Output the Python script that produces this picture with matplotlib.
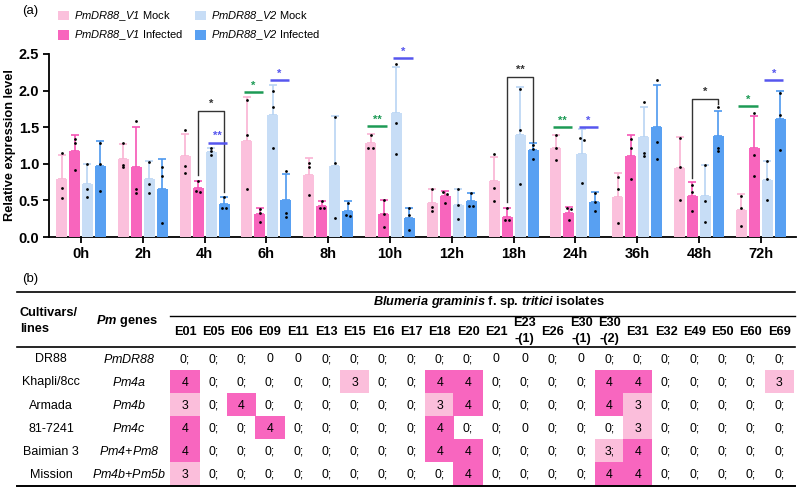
"""Relative expression of PmDR88 variants (a) and Bgt isolate reaction table (b)."""
import numpy as np
import matplotlib
matplotlib.use("Agg")
import matplotlib.pyplot as plt
from matplotlib.patches import Patch, Rectangle

plt.rcParams["font.family"] = ["Liberation Sans", "DejaVu Sans"]
plt.rcParams["mathtext.fontset"] = "custom"
# digits inside \mathit fall back to the "rm" slot, so make that italic too
plt.rcParams["mathtext.rm"] = "Liberation Sans:italic"
plt.rcParams["mathtext.it"] = "Liberation Sans:italic"
plt.rcParams["mathtext.bf"] = "Liberation Sans:bold"
plt.rcParams["mathtext.bfit"] = "Liberation Sans:italic:bold"

# ---------------- (a) data ----------------
time_points = ["0h", "2h", "4h", "6h", "8h", "10h", "12h", "18h", "24h", "36h", "48h", "72h"]
series_labels = [r"$\mathit{PmDR88\_V1}$ Mock", r"$\mathit{PmDR88\_V1}$ Infected",
                 r"$\mathit{PmDR88\_V2}$ Mock", r"$\mathit{PmDR88\_V2}$ Infected"]

v1_mock = [0.79, 1.07, 1.10, 1.31, 0.85, 1.28, 0.47, 0.76, 1.22, 0.55, 0.94, 0.37]
v1_inf = [1.17, 0.95, 0.67, 0.31, 0.43, 0.32, 0.56, 0.28, 0.33, 1.11, 0.56, 1.21]
v2_mock = [0.73, 0.79, 1.16, 1.66, 0.97, 1.69, 0.44, 1.40, 1.14, 1.36, 0.56, 0.78]
v2_inf = [0.97, 0.65, 0.45, 0.50, 0.35, 0.26, 0.49, 1.19, 0.48, 1.50, 1.38, 1.61]

v1_mock_sd = [0.33, 0.20, 0.31, 0.60, 0.23, 0.13, 0.18, 0.33, 0.18, 0.33, 0.42, 0.22]
v1_inf_sd = [0.23, 0.55, 0.09, 0.08, 0.06, 0.185, 0.07, 0.11, 0.08, 0.29, 0.19, 0.44]
v2_mock_sd = [0.27, 0.25, 0.05, 0.41, 0.68, 0.63, 0.21, 0.65, 0.33, 0.41, 0.42, 0.26]
v2_inf_sd = [0.34, 0.41, 0.10, 0.355, 0.14, 0.14, 0.11, 0.10, 0.14, 0.57, 0.34, 0.39]

v1_mock_reps = [(1.15, 0.67, 0.53), (1.29, 0.99, 0.95), (1.46, 0.97, 0.87), (1.87, 1.39, 0.66),
                (1.01, 0.96, 0.57), (1.40, 1.22, 1.22), (0.65, 0.41, 0.35), (1.13, 0.67, 0.49),
                (1.40, 1.22, 1.05), (0.82, 0.65, 0.19), (1.35, 0.96, 0.50), (0.56, 0.40, 0.15)]
v1_inf_reps = [(1.34, 1.28, 0.91), (1.59, 0.66, 0.60), (0.76, 0.63, 0.61), (0.38, 0.33, 0.21),
               (0.49, 0.40, 0.39), (0.50, 0.31, 0.14), (0.62, 0.59, 0.46), (0.39, 0.23, 0.23),
               (0.39, 0.38, 0.23), (1.34, 1.21, 0.79), (0.71, 0.62, 0.35), (1.70, 1.12, 0.83)]
v2_mock_reps = [(1.00, 0.65, 0.55), (1.03, 0.72, 0.60), (1.21, 1.17, 1.12), (1.99, 1.78, 1.21),
                (1.64, 1.01, 0.26), (2.37, 1.56, 1.13), (0.65, 0.44, 0.24), (2.02, 1.46, 0.73),
                (1.35, 1.33, 0.74), (1.84, 1.15, 1.10), (0.98, 0.49, 0.20), (1.04, 0.79, 0.50)]
v2_inf_reps = [(1.29, 1.00, 0.63), (0.96, 0.83, 0.19), (0.55, 0.40, 0.39), (0.90, 0.33, 0.28),
               (0.47, 0.30, 0.29), (0.39, 0.30, 0.10), (0.60, 0.42, 0.42), (1.26, 1.20, 1.07),
               (0.60, 0.48, 0.36), (2.14, 1.30, 1.06), (1.78, 1.21, 1.17), (1.97, 1.66, 1.19)]

# significance: V1 infected vs V2 infected (black brackets)
bracket_groups = [2, 7, 10]
bracket_top = [1.72, 2.18, 1.89]
bracket_left_end = [0.85, 0.48, 0.80]
bracket_right_end = [0.62, 1.30, 1.82]
bracket_marks = ["*", "**", "*"]
# V1 mock vs V1 infected (green)
green_groups = [3, 5, 8, 11]
green_y = [1.98, 1.51, 1.505, 1.79]
green_marks = ["*", "**", "**", "*"]
# V2 mock vs V2 infected (blue)
blue_groups = [2, 3, 5, 8, 11]
blue_y = [1.29, 2.14, 2.44, 1.505, 2.14]
blue_marks = ["**", "*", "*", "*", "*"]

# ---------------- (b) data ----------------
isolates = ["E01", "E05", "E06", "E09", "E11", "E13", "E15", "E16", "E17", "E18", "E20",
            "E21", "E23\n-(1)", "E26", "E30\n-(1)", "E30\n-(2)", "E31", "E32", "E49",
            "E50", "E60", "E69"]
cultivars = ["DR88", "Khapli/8cc", "Armada", "81-7241", "Baimian 3", "Mission"]
pm_genes = [r"$\mathit{PmDR88}$", r"$\mathit{Pm4a}$", r"$\mathit{Pm4b}$", r"$\mathit{Pm4c}$",
            r"$\mathit{Pm4{+}Pm8}$", r"$\mathit{Pm4b{+}Pm5b}$"]
reactions = [
    ["0;", "0;", "0;", "0", "0", "0;", "0;", "0;", "0;", "0;", "0;",
     "0", "0", "0;", "0", "0;", "0;", "0;", "0;", "0;", "0;", "0;"],
    ["4", "0;", "0;", "0;", "0;", "0;", "3", "0;", "0;", "4", "4",
     "0;", "0;", "0;", "0;", "4", "4", "0;", "0;", "0;", "0;", "3"],
    ["3", "0;", "4", "0;", "0;", "0;", "0;", "0;", "0;", "3", "4",
     "0;", "0;", "0;", "0;", "4", "3", "0;", "0;", "0;", "0;", "0;"],
    ["4", "0;", "0;", "4", "0;", "0;", "0;", "0;", "0;", "4", "0;",
     "0;", "0", "0;", "0;", "0;", "3", "0;", "0;", "0;", "0;", "0;"],
    ["4", "0;", "0;", "0;", "0;", "0;", "0;", "0;", "0;", "4", "4",
     "0;", "0;", "0;", "0;", "3;", "4", "0;", "0;", "0;", "0;", "0;"],
    ["3", "0;", "0;", "0;", "0;", "0;", "0;", "0;", "0;", "0;", "4",
     "0;", "0;", "0;", "0;", "4", "4", "0;", "0;", "0;", "0;", "0;"],
]

bar_colors = ["#fbc0dc", "#f865bd", "#c7ddf6", "#58a0f2"]
err_colors = ["#f9b3d3", "#f655b5", "#b9d4f3", "#4d98ef"]
green = "#1d9a55"
blue = "#5656ee"
dark = "#333333"
cell_strong = "#f866bf"
cell_light = "#fbbedb"


def _spread(vals, step=0.035, tol=0.035):
    """Small horizontal offsets for replicate dots that sit on top of each other."""
    offs = [0.0] * len(vals)
    for i in range(len(vals)):
        for j in range(i + 1, len(vals)):
            if abs(vals[i] - vals[j]) < tol:
                offs[i] -= step
                offs[j] += step
    return offs


fig = plt.figure(figsize=(7.98, 4.90), dpi=100)
ax = fig.add_axes([49 / 798, 253 / 490, 747 / 798, 183 / 490])

x = np.arange(len(time_points))
pitch = 0.21
width = 0.178
means = [v1_mock, v1_inf, v2_mock, v2_inf]
sds = [v1_mock_sd, v1_inf_sd, v2_mock_sd, v2_inf_sd]
reps = [v1_mock_reps, v1_inf_reps, v2_mock_reps, v2_inf_reps]

for k in range(4):
    xs = x + (k - 1.5) * pitch
    ax.errorbar(xs, means[k], yerr=[np.zeros(len(x)), sds[k]], fmt="none",
                ecolor=err_colors[k], elinewidth=1.2, capsize=3.2, capthick=1.2, zorder=2)
    ax.bar(xs, means[k], width=width, color=bar_colors[k], label=series_labels[k], zorder=3)
    for xi, trip in zip(xs, reps[k]):
        offs = _spread(trip)
        ax.plot(xi + np.array(offs), trip, "o", color="black", markersize=2.0,
                markeredgewidth=0, zorder=4)


def bar_x(g, k):
    return x[g] + (k - 1.5) * pitch


for g, top, le, re, m in zip(bracket_groups, bracket_top, bracket_left_end,
                             bracket_right_end, bracket_marks):
    x0, x1 = bar_x(g, 1), bar_x(g, 3)
    ax.plot([x0, x0, x1, x1], [le, top, top, re], color=dark, lw=1.0,
            clip_on=False, zorder=5)
    ax.text((x0 + x1) / 2, top + 0.03, m, color=dark, ha="center", va="bottom",
            fontsize=8, fontweight="bold", clip_on=False)

for groups, ys, marks, col, k0 in [(green_groups, green_y, green_marks, green, 0),
                                     (blue_groups, blue_y, blue_marks, blue, 2)]:
    for g, yv, m in zip(groups, ys, marks):
        xm = (bar_x(g, k0) + bar_x(g, k0 + 1)) / 2
        ax.plot([xm - 0.75 * pitch, xm + 0.75 * pitch], [yv, yv], color=col, lw=1.8,
                solid_capstyle="butt", clip_on=False, zorder=5)
        ax.text(xm, yv + 0.02, m, color=col, ha="center", va="bottom",
                fontsize=8, fontweight="bold", clip_on=False)

ax.set_xlim(-0.518, 11.57)
ax.set_ylim(0, 2.5)
ax.set_yticks([0, 0.5, 1.0, 1.5, 2.0, 2.5])
ax.set_yticklabels([f"{v:.1f}" for v in [0, 0.5, 1.0, 1.5, 2.0, 2.5]])
ax.set_xticks(x)
ax.set_xticklabels(time_points)
for lab in ax.get_xticklabels():
    lab.set_fontweight("bold")
    lab.set_fontsize(10.5)
for lab in ax.get_yticklabels():
    lab.set_fontweight("bold")
    lab.set_fontsize(10.5)
ax.tick_params(axis="both", direction="out", length=4.5, width=1.3, pad=2.5)
for side in ["top", "right"]:
    ax.spines[side].set_visible(False)
for side in ["left", "bottom"]:
    ax.spines[side].set_linewidth(1.3)
ax.set_ylabel("Relative expression level", fontsize=9.2, fontweight="bold", labelpad=2)

handles = [Patch(facecolor=c, edgecolor="none") for c in bar_colors]
fig.legend(handles, series_labels, loc="upper left", bbox_to_anchor=(54 / 798, 1 - 5 / 490),
           ncol=2, frameon=False, fontsize=8, handlelength=0.95, handleheight=0.95,
           handletextpad=0.45, columnspacing=1.1, labelspacing=0.5, borderaxespad=0)

fig.text(22 / 798, 1 - 11 / 490, "(a)", fontsize=9.5, va="center", ha="left")
fig.text(22 / 798, 1 - 279 / 490, "(b)", fontsize=9.5, va="center", ha="left")

# ---------------- (b) table ----------------
tx = fig.add_axes([0, 0, 1, 222 / 490])
tx.set_xlim(0, 798)
tx.set_ylim(490, 268)
tx.axis("off")

col_x = 185 + 28.3 * np.arange(len(isolates))
row_y = 359.5 + 23.0 * np.arange(len(cultivars))

tx.plot([17, 795], [291.7, 291.7], color="black", lw=1.2)
tx.plot([170, 795], [315.7, 315.7], color="black", lw=1.0)
tx.plot([17, 795], [347.3, 347.3], color="black", lw=1.2)
tx.plot([17, 795], [485.7, 485.7], color="black", lw=1.4)

tx.text(489, 302.5, r"$\mathbfit{Blumeria\ graminis}$ f. sp. $\mathbfit{tritici}$ isolates",
        ha="center", va="center", fontsize=9.2, fontweight="bold")
tx.text(20, 313, "Cultivars/", ha="left", va="center", fontsize=9.2, fontweight="bold")
tx.text(20, 328.5, "lines", ha="left", va="center", fontsize=9.2, fontweight="bold")
tx.text(127, 321, r"$\mathbfit{Pm}$ genes", ha="center", va="center", fontsize=9.2,
        fontweight="bold")

for cx, name in zip(col_x, isolates):
    if "\n" in name:
        top, bot = name.split("\n")
        tx.text(cx, 322.7, top, ha="center", va="center", fontsize=9.2, fontweight="bold")
        tx.text(cx, 339.0, bot, ha="center", va="center", fontsize=9.2, fontweight="bold")
    else:
        tx.text(cx, 331.7, name, ha="center", va="center", fontsize=9.2, fontweight="bold")

for ry, cult, gene, row in zip(row_y, cultivars, pm_genes, reactions):
    tx.text(51, ry, cult, ha="center", va="center", fontsize=9)
    tx.text(129, ry, gene, ha="center", va="center", fontsize=9)
    for cx, val in zip(col_x, row):
        if val.startswith("4"):
            tx.add_patch(Rectangle((cx - 14.6, ry - 12.5), 29.2, 23.2, facecolor=cell_strong,
                                   edgecolor="none", zorder=0))
        elif val.startswith("3"):
            tx.add_patch(Rectangle((cx - 14.6, ry - 12.5), 29.2, 23.2, facecolor=cell_light,
                                   edgecolor="none", zorder=0))
        tx.text(cx, ry, val, ha="center", va="center", fontsize=8.8, zorder=2)

fig.savefig("out.png", dpi=100)
